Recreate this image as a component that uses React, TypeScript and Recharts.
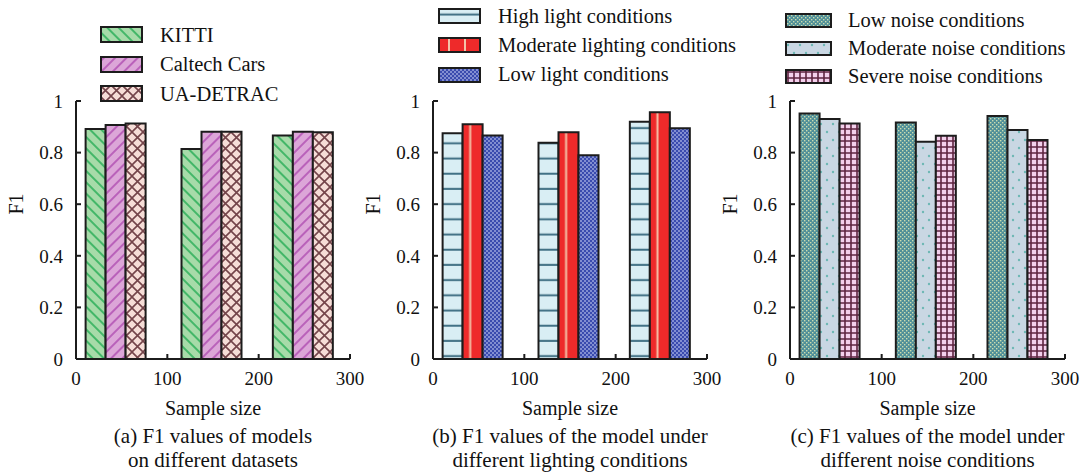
import React from 'react';
import { BarChart, Bar, XAxis, YAxis, Legend } from 'recharts';

const FONT = '"Liberation Serif", "Times New Roman", Times, serif';
const INK = '#1c1c1c';

// ---- shared axes ----
const sampleSizes = [43, 148, 248];
const xTicks = [0, 100, 200, 300];
const yTicks = [0, 0.2, 0.4, 0.6, 0.8, 1];

// ---- (a) datasets ----
const datasetNames = ['KITTI', 'Caltech Cars', 'UA-DETRAC'];
const kitti = [0.891, 0.814, 0.866];
const caltechCars = [0.907, 0.881, 0.881];
const uaDetrac = [0.913, 0.881, 0.879];

// ---- (b) lighting ----
const lightingNames = ['High light conditions', 'Moderate lighting conditions', 'Low light conditions'];
const highLight = [0.875, 0.838, 0.92];
const moderateLight = [0.91, 0.879, 0.956];
const lowLight = [0.866, 0.79, 0.894];

// ---- (c) noise ----
const noiseNames = ['Low noise conditions', 'Moderate noise conditions', 'Severe noise conditions'];
const lowNoise = [0.952, 0.917, 0.942];
const moderateNoise = [0.93, 0.842, 0.888];
const severeNoise = [0.913, 0.865, 0.849];

const captionA = ['(a) F1 values of models', 'on different datasets'];
const captionB = ['(b) F1 values of the model under', 'different lighting conditions'];
const captionC = ['(c) F1 values of the model under', 'different noise conditions'];

const Patterns = () => (
  <defs>
    <pattern id="pKitti" width="8" height="8" patternUnits="userSpaceOnUse" patternTransform="rotate(-45)">
      <rect width="8" height="8" fill="#a7dba9" />
      <line x1="4" y1="0" x2="4" y2="8" stroke="#2aae58" strokeWidth="1.6" />
    </pattern>
    <pattern id="pCaltech" width="8" height="8" patternUnits="userSpaceOnUse" patternTransform="rotate(45)">
      <rect width="8" height="8" fill="#dca6d8" />
      <line x1="4" y1="0" x2="4" y2="8" stroke="#b150b3" strokeWidth="1.6" />
    </pattern>
    <pattern id="pDetrac" width="11" height="11" patternUnits="userSpaceOnUse">
      <rect width="11" height="11" fill="#f6ddd7" />
      <path d="M0 0L11 11M11 0L0 11" stroke="#74444a" strokeWidth="1.6" />
    </pattern>
    <pattern id="pHigh" width="10" height="15.2" patternUnits="userSpaceOnUse">
      <rect width="10" height="15.2" fill="#d9eef4" />
      <line x1="0" y1="6.5" x2="10" y2="6.5" stroke="#3f6f83" strokeWidth="2" />
    </pattern>
    <pattern id="pModLight" width="1" height="1" patternUnits="objectBoundingBox" patternContentUnits="objectBoundingBox">
      <rect width="1" height="1" fill="#ee2a2a" />
      <rect x="0.33" y="0" width="0.1" height="1" fill="#f4c3a8" />
    </pattern>
    <pattern id="pModLightLegend" width="16" height="10" patternUnits="userSpaceOnUse">
      <rect width="16" height="10" fill="#ee2a2a" />
      <line x1="11" y1="0" x2="11" y2="10" stroke="#f4c3a8" strokeWidth="2" />
    </pattern>
    <pattern id="pLowLight" width="4" height="4" patternUnits="userSpaceOnUse">
      <rect width="4" height="4" fill="#3a4bae" />
      <circle cx="1" cy="1" r="0.8" fill="#dfe4ff" />
      <circle cx="3" cy="3" r="0.8" fill="#dfe4ff" />
    </pattern>
    <pattern id="pLowNoise" width="4" height="4" patternUnits="userSpaceOnUse">
      <rect width="4" height="4" fill="#4f8f98" />
      <rect x="0" y="0" width="1.4" height="1.4" fill="#cbdcaf" />
      <rect x="2" y="2" width="1.4" height="1.4" fill="#cbdcaf" />
    </pattern>
    <pattern id="pModNoise" width="12" height="16" patternUnits="userSpaceOnUse">
      <rect width="12" height="16" fill="#c9d7e3" />
      <circle cx="3" cy="4" r="1.2" fill="#6db7b4" />
      <circle cx="9" cy="12" r="1.2" fill="#6db7b4" />
    </pattern>
    <pattern id="pSevere" width="6" height="6" patternUnits="userSpaceOnUse">
      <rect width="6" height="6" fill="#f3d0ec" />
      <path d="M0 3H6M3 0V6" stroke="#5e2440" strokeWidth="1.6" />
    </pattern>
  </defs>
);

type Series = { key: string; name: string; values: number[]; fill: string; legendFill?: string };

type PanelProps = {
  left: number;
  width: number;
  marginLeft: number;
  marginRight: number;
  series: Series[];
  legend: { left: number; top: number; rowH: number; swW: number; swH: number; gap: number };
  caption: string[];
};

const Panel = ({ left, width, marginLeft, marginRight, series, legend, caption }: PanelProps) => {
  const data = sampleSizes.map((x, i) => {
    const row: Record<string, number> = { x };
    series.forEach((s) => {
      row[s.key] = s.values[i];
    });
    return row;
  });

  const legendContent = () => (
    <div style={{ fontFamily: FONT, fontSize: 20.5, color: '#111' }}>
      {series.map((s) => (
        <div key={s.key} style={{ height: legend.rowH, display: 'flex', alignItems: 'center', whiteSpace: 'nowrap' }}>
          <svg width={legend.swW} height={legend.swH} style={{ display: 'block' }}>
            <rect
              x={1}
              y={1}
              width={legend.swW - 2}
              height={legend.swH - 2}
              fill={s.legendFill || s.fill}
              stroke={INK}
              strokeWidth={2}
            />
          </svg>
          <span style={{ marginLeft: legend.gap, lineHeight: 1, fontFamily: FONT }}>{s.name}</span>
        </div>
      ))}
    </div>
  );

  return (
    <div style={{ position: 'absolute', left, top: 0 }}>
      <BarChart
        width={width}
        height={475}
        data={data}
        margin={{ top: 101, right: marginRight, bottom: 56, left: marginLeft }}
        barGap={0}
        barSize={20}
      >
        <Patterns />
        <XAxis
          type="number"
          dataKey="x"
          domain={[0, 300]}
          ticks={xTicks}
          interval={0}
          height={60}
          stroke={INK}
          axisLine={{ stroke: INK, strokeWidth: 2 }}
          tickLine={{ stroke: INK, strokeWidth: 2 }}
          tickSize={-5}
          tickMargin={18}
          tick={{ fill: '#111', fontSize: 19, fontFamily: FONT }}
          label={{
            content: (p: any) => {
              const vb = p.viewBox || {};
              return (
                <text
                  x={vb.x + vb.width / 2}
                  y={vb.y + 56}
                  textAnchor="middle"
                  fontSize={20}
                  fill="#111"
                  style={{ fontFamily: FONT }}
                >
                  Sample size
                </text>
              );
            },
          }}
        />
        <YAxis
          type="number"
          domain={[0, 1]}
          ticks={yTicks}
          interval={0}
          width={60}
          stroke={INK}
          axisLine={{ stroke: INK, strokeWidth: 2 }}
          tickLine={{ stroke: INK, strokeWidth: 2 }}
          tickSize={-5}
          tickMargin={18}
          tick={{ fill: '#111', fontSize: 19, fontFamily: FONT }}
          label={{
            content: (p: any) => {
              const vb = p.viewBox || {};
              const cx = vb.x;
              const cy = vb.y + vb.height / 2 - 26;
              return (
                <text
                  x={cx}
                  y={cy}
                  transform={`rotate(-90 ${cx} ${cy})`}
                  textAnchor="middle"
                  dominantBaseline="central"
                  fontSize={20}
                  fill="#111"
                  style={{ fontFamily: FONT }}
                >
                  F1
                </text>
              );
            },
          }}
        />
        <Legend
          layout="vertical"
          align="center"
          verticalAlign="middle"
          content={legendContent}
          wrapperStyle={{ left: legend.left, top: legend.top, width: 'auto', height: 'auto' }}
        />
        {series.map((s) => (
          <Bar
            key={s.key}
            dataKey={s.key}
            name={s.name}
            fill={s.fill}
            stroke={INK}
            strokeWidth={2}
            isAnimationActive={false}
          />
        ))}
      </BarChart>
      <div
        style={{
          position: 'absolute',
          left: marginLeft + 60,
          width: width - marginLeft - 60 - marginRight,
          top: 424,
          textAlign: 'center',
          fontFamily: FONT,
          fontSize: 21,
          lineHeight: '24px',
          color: '#111',
          whiteSpace: 'nowrap',
          display: 'flex',
          flexDirection: 'column',
          alignItems: 'center',
        }}
      >
        {caption.map((c) => (
          <div key={c}>{c}</div>
        ))}
      </div>
    </div>
  );
};

const seriesA: Series[] = [
  { key: 'kitti', name: datasetNames[0], values: kitti, fill: 'url(#pKitti)' },
  { key: 'caltech', name: datasetNames[1], values: caltechCars, fill: 'url(#pCaltech)' },
  { key: 'detrac', name: datasetNames[2], values: uaDetrac, fill: 'url(#pDetrac)' },
];
const seriesB: Series[] = [
  { key: 'high', name: lightingNames[0], values: highLight, fill: 'url(#pHigh)' },
  { key: 'mod', name: lightingNames[1], values: moderateLight, fill: 'url(#pModLight)', legendFill: 'url(#pModLightLegend)' },
  { key: 'low', name: lightingNames[2], values: lowLight, fill: 'url(#pLowLight)' },
];
const seriesC: Series[] = [
  { key: 'lown', name: noiseNames[0], values: lowNoise, fill: 'url(#pLowNoise)' },
  { key: 'modn', name: noiseNames[1], values: moderateNoise, fill: 'url(#pModNoise)' },
  { key: 'sev', name: noiseNames[2], values: severeNoise, fill: 'url(#pSevere)' },
];

export default function App() {
  return (
    <div style={{ position: 'absolute', left: 0, top: 0, width: 1081, height: 475, background: '#fff', overflow: 'hidden' }}>
      <Panel
        left={0}
        width={380}
        marginLeft={16}
        marginRight={30}
        series={seriesA}
        legend={{ left: 100, top: 20, rowH: 29.5, swW: 43, swH: 17, gap: 17 }}
        caption={captionA}
      />
      <Panel
        left={360}
        width={380}
        marginLeft={13}
        marginRight={33}
        series={seriesB}
        legend={{ left: 78, top: 1.5, rowH: 29.3, swW: 43, swH: 16, gap: 17 }}
        caption={captionB}
      />
      <Panel
        left={716}
        width={365}
        marginLeft={14}
        marginRight={16}
        series={seriesC}
        legend={{ left: 69, top: 6.5, rowH: 28, swW: 47, swH: 15, gap: 16 }}
        caption={captionC}
      />
    </div>
  );
}
